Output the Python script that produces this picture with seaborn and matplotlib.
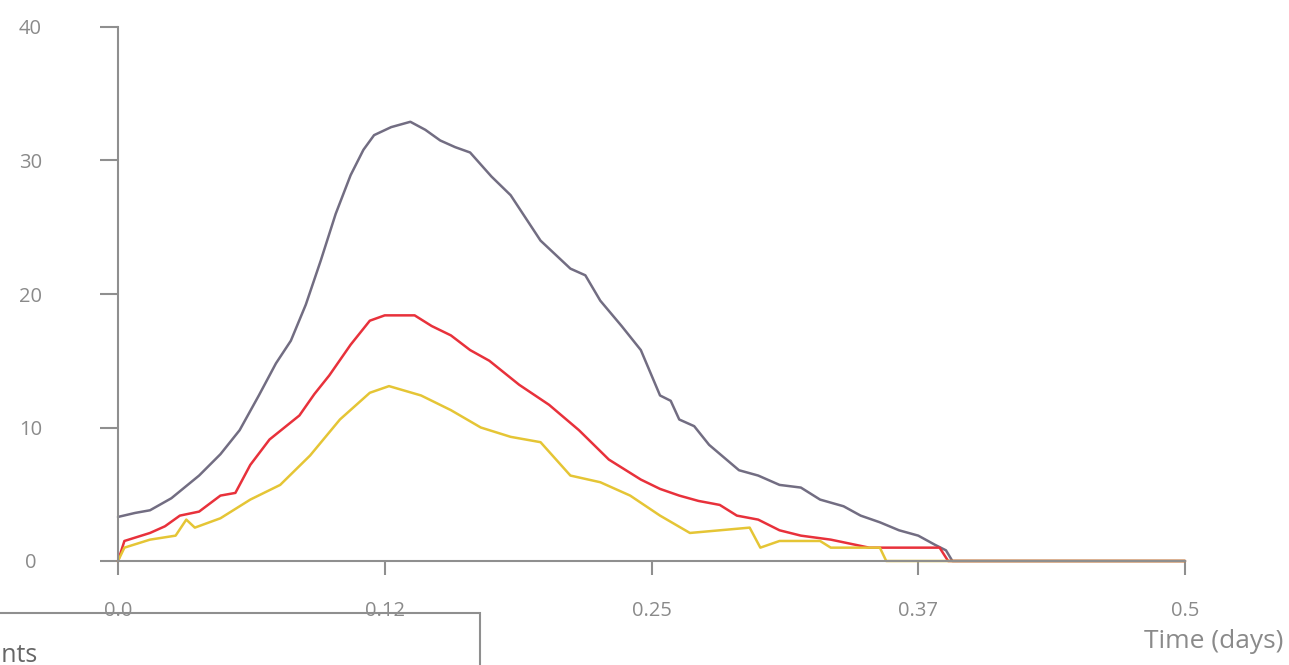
import numpy as np
import pandas as pd
import matplotlib
matplotlib.use("Agg")
import matplotlib.pyplot as plt
import seaborn as sns
from matplotlib.patches import Rectangle

# ---- data ----
series_names = ["Total", "Group A", "Group B"]
gray_t = [0.0, 0.008, 0.015, 0.025, 0.038, 0.048, 0.057, 0.066, 0.074, 0.081, 0.088,
          0.095, 0.102, 0.109, 0.115, 0.12, 0.128, 0.137, 0.144, 0.151, 0.158,
          0.165, 0.175, 0.184, 0.198, 0.212, 0.219, 0.226, 0.236, 0.245, 0.254,
          0.259, 0.263, 0.27, 0.277, 0.291, 0.3, 0.31, 0.32, 0.329, 0.34, 0.348,
          0.357, 0.366, 0.375, 0.383, 0.388, 0.391, 0.42, 0.5]
gray_v = [3.3, 3.6, 3.8, 4.7, 6.4, 8.0, 9.8, 12.4, 14.8, 16.5, 19.2,
          22.5, 26.0, 28.9, 30.8, 31.9, 32.5, 32.9, 32.3, 31.5, 31.0,
          30.6, 28.8, 27.4, 24.0, 21.9, 21.4, 19.5, 17.6, 15.8, 12.4,
          12.0, 10.6, 10.1, 8.7, 6.8, 6.4, 5.7, 5.5, 4.6, 4.1, 3.4,
          2.9, 2.3, 1.9, 1.2, 0.8, 0.0, 0.0, 0.0]
red_t = [0.0, 0.003, 0.015, 0.022, 0.029, 0.038, 0.048, 0.055, 0.062, 0.071, 0.085,
         0.092, 0.099, 0.109, 0.118, 0.125, 0.139, 0.147, 0.156, 0.165, 0.174,
         0.188, 0.202, 0.216, 0.23, 0.245, 0.254, 0.263, 0.272, 0.282, 0.29,
         0.3, 0.31, 0.32, 0.334, 0.352, 0.385, 0.389, 0.42, 0.5]
red_v = [0.0, 1.5, 2.1, 2.6, 3.4, 3.7, 4.9, 5.1, 7.2, 9.1, 10.9,
         12.5, 13.9, 16.2, 18.0, 18.4, 18.4, 17.6, 16.9, 15.8, 15.0,
         13.2, 11.7, 9.8, 7.6, 6.1, 5.4, 4.9, 4.5, 4.2, 3.4,
         3.1, 2.3, 1.9, 1.6, 1.0, 1.0, 0.0, 0.0, 0.0]
yellow_t = [0.0, 0.003, 0.015, 0.027, 0.032, 0.036, 0.048, 0.062, 0.076, 0.09, 0.104,
            0.118, 0.127, 0.142, 0.156, 0.17, 0.184, 0.198, 0.212, 0.226, 0.24, 0.254,
            0.268, 0.282, 0.296, 0.301, 0.31, 0.329, 0.334, 0.357, 0.36, 0.42, 0.5]
yellow_v = [0.0, 1.0, 1.6, 1.9, 3.1, 2.5, 3.2, 4.6, 5.7, 7.9, 10.6,
            12.6, 13.1, 12.4, 11.3, 10.0, 9.3, 8.9, 6.4, 5.9, 4.9, 3.4,
            2.1, 2.3, 2.5, 1.0, 1.5, 1.5, 1.0, 1.0, 0.0, 0.0, 0.0]
xticks = [0.0, 0.125, 0.25, 0.375, 0.5]
xtick_labels = ["0.0", "0.12", "0.25", "0.37", "0.5"]
yticks = [0, 10, 20, 30, 40]

df = pd.concat([
    pd.DataFrame({"t": gray_t, "v": gray_v, "s": series_names[0]}),
    pd.DataFrame({"t": red_t, "v": red_v, "s": series_names[1]}),
    pd.DataFrame({"t": yellow_t, "v": yellow_v, "s": series_names[2]}),
])

sns.set_theme(style="white")
plt.rcParams["font.family"] = ["Open Sans", "DejaVu Sans"]
txt = "#8a8a8a"
axc = "#8f8f8f"

fig = plt.figure(figsize=(12.89, 6.65), dpi=100)
ax = fig.add_axes([118/1289, 1-561/665, (1185-118)/1289, (561-27)/665])

palette = {series_names[0]: "#726d82", series_names[1]: "#e8313b",
           series_names[2]: "#e5c535"}
sns.lineplot(data=df, x="t", y="v", hue="s", palette=palette, ax=ax,
             linewidth=1.8, legend=False, estimator=None, sort=False)

ax.set_xlim(0, 0.5)
ax.set_ylim(0, 40)
ax.set_xticks(xticks)
ax.set_xticklabels(xtick_labels)
ax.set_yticks(yticks)
ax.set_xlabel("")
ax.set_ylabel("")
for s in ["top", "right"]:
    ax.spines[s].set_visible(False)
for s in ["left", "bottom"]:
    ax.spines[s].set_color(axc)
    ax.spines[s].set_linewidth(1.5)
ax.tick_params(axis="y", direction="out", length=13, width=1.5, color=axc,
               labelcolor=txt, labelsize=14.5, pad=50, left=True)
ax.tick_params(axis="x", direction="out", length=10, width=1.5, color=axc,
               labelcolor=txt, labelsize=14.5, pad=19, bottom=True)
for lab in ax.get_yticklabels():
    lab.set_horizontalalignment("center")
for l in ax.get_lines():
    l.set_clip_on(False)

fig.text(1283/1289, 1-641/665, "Time (days)", ha="right", va="center",
         fontsize=19, color=txt)

# partially visible legend box and title (cropped in the reference)
fig.patches.append(Rectangle((-0.1, -0.1), 0.1 + 480/1289, 0.1 + 1-613/665,
                             transform=fig.transFigure, fill=False,
                             edgecolor=axc, linewidth=1.5))
fig.text(38/1289, 1-656/665, "Compartments", ha="right", va="center",
         fontsize=18, color="#666666")
fig.text(0, 1-3/665, "Number of infectious individuals", ha="left", va="bottom",
         fontsize=18, color=txt)

fig.savefig("out.png", dpi=100)
